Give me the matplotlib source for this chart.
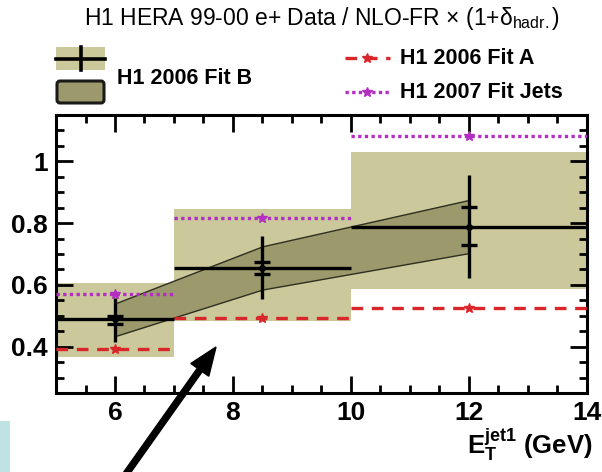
import matplotlib
matplotlib.use('Agg')
import matplotlib.pyplot as plt
from matplotlib.patches import Rectangle, FancyBboxPatch, FancyArrow
from matplotlib.ticker import MultipleLocator
import numpy as np

plt.rcParams['font.family'] = ['Liberation Sans', 'DejaVu Sans']
plt.rcParams['mathtext.fontset'] = 'custom'
plt.rcParams['mathtext.rm'] = 'Liberation Sans'
plt.rcParams['mathtext.it'] = 'Liberation Sans:italic'
plt.rcParams['mathtext.bf'] = 'Liberation Sans:bold'

# bins in E_T^jet1 (GeV)
bin_edges = [5, 7, 10, 14]
bin_centres = [6, 8.5, 12]

# data / NLO ratio with stat and total errors
data_ratio = [0.488, 0.656, 0.789]
stat_up = [0.011, 0.018, 0.063]
stat_dn = [0.013, 0.022, 0.059]
tot_up = [0.068, 0.101, 0.168]
tot_dn = [0.072, 0.102, 0.166]

# theory uncertainty boxes
box_hi = [0.607, 0.846, 1.031]
box_lo = [0.368, 0.482, 0.586]

# fit predictions
fit_a = [0.392, 0.493, 0.524]
fit_jets = [0.572, 0.818, 1.083]

# H1 2006 Fit B band
fitb_x = [6, 8.5, 12]
fitb_hi = [0.540, 0.725, 0.875]
fitb_lo = [0.434, 0.585, 0.703]

khaki = '#cbc99c'
olive = '#9c9a6c'
red = '#d8262a'
magenta = '#b22fc2'

fig = plt.figure(figsize=(6.02, 4.72), dpi=100)
ax = fig.add_axes([56 / 602, 79 / 472, 531 / 602, 278 / 472])

lefts = np.array(bin_edges[:-1])
widths = np.diff(bin_edges)
ax.bar(lefts, np.array(box_hi) - np.array(box_lo), width=widths, bottom=box_lo,
       align='edge', color=khaki, linewidth=0, zorder=1)

ax.fill_between(fitb_x, fitb_lo, fitb_hi, facecolor=olive, edgecolor='#2e2e20',
                linewidth=1.0, zorder=2)

ax.hlines(fit_a, lefts, lefts + widths, colors=red, linestyles=(0, (3.5, 2.6)),
          linewidth=2.4, zorder=3)
ax.plot(bin_centres, fit_a, linestyle='none', marker='*', markersize=7,
        color=red, zorder=3)
ax.hlines(fit_jets, lefts, lefts + widths, colors=magenta, linestyles=(0, (1, 1)),
          linewidth=2.4, zorder=3)
ax.plot(bin_centres, fit_jets, linestyle='none', marker='*', markersize=7,
        color=magenta, zorder=3)

ax.hlines(data_ratio, lefts, lefts + widths, colors='black', linewidth=2.4, zorder=4)
ax.errorbar(bin_centres, data_ratio, yerr=[tot_dn, tot_up], fmt='o', color='black',
            markersize=4, elinewidth=2.4, capsize=0, zorder=5)
ax.errorbar(bin_centres, data_ratio, yerr=[stat_dn, stat_up], fmt='none',
            ecolor='black', elinewidth=0, capsize=6, capthick=2.4, zorder=5)

ax.set_xlim(5, 14)
ax.set_ylim(0.25, 1.15)
ax.xaxis.set_minor_locator(MultipleLocator(0.5))
ax.yaxis.set_minor_locator(MultipleLocator(0.05))
ax.set_xticks([6, 8, 10, 12, 14])
ax.set_xticklabels(['6', '8', '10', '12', '14'])
ax.set_yticks([0.4, 0.6, 0.8, 1.0])
ax.set_yticklabels(['0.4', '0.6', '0.8', '1'])
ax.tick_params(which='both', direction='in', top=True, right=True, width=2)
ax.tick_params(which='major', length=12, labelsize=19, pad=6)
ax.tick_params(which='minor', length=6)
for lab in ax.get_xticklabels() + ax.get_yticklabels():
    lab.set_fontweight('bold')
for sp in ax.spines.values():
    sp.set_linewidth(2.2)

fig.text(593 / 602, 1 - 445 / 472, r'$\mathbf{E}_\mathbf{T}^\mathbf{jet1}$ (GeV)',
         ha='right', va='center', fontsize=18.5, fontweight='bold')

fig.text(322 / 602, 1 - 19 / 472,
         'H1 HERA 99-00 e+ Data / NLO-FR \u00d7 (1+\u03b4$_{\\rm hadr.}$)',
         ha='center', va='center', fontsize=16.5)

# legend and annotation drawn on an overlay in pixel units
ov = fig.add_axes([0, 0, 1, 1], zorder=10)
ov.set_xlim(0, 602)
ov.set_ylim(472, 0)
ov.axis('off')

ov.add_patch(Rectangle((56, 47), 49, 23, facecolor=khaki, edgecolor='none'))
ov.plot([56, 105], [58.5, 58.5], color='black', linewidth=2.6)
ov.plot([81, 81], [47, 70], color='black', linewidth=2.6)
ov.add_patch(FancyBboxPatch((57, 81), 47, 22, boxstyle='round,pad=0,rounding_size=3',
                            facecolor=olive, edgecolor='#1a1a1a', linewidth=2.2))
ov.text(117, 78, 'H1 2006 Fit B', ha='left', va='center', fontsize=15.5,
        fontweight='bold')

ov.plot([345, 390], [58, 58], color=red, linestyle=(0, (3.5, 2.6)), linewidth=2.4)
ov.plot([367], [58], marker='*', markersize=7, color=red)
ov.text(400, 58, 'H1 2006 Fit A', ha='left', va='center', fontsize=15.5,
        fontweight='bold')
ov.plot([345, 390], [92, 92], color=magenta, linestyle=(0, (1, 1)), linewidth=2.4)
ov.plot([367], [92], marker='*', markersize=7, color=magenta)
ov.text(400, 92, 'H1 2007 Fit Jets', ha='left', va='center', fontsize=15.5,
        fontweight='bold')

ov.add_patch(Rectangle((0, 421), 10, 51, facecolor='#bfe2e5', edgecolor='none'))
ov.add_patch(FancyArrow(126, 474, 216 - 126, 347 - 474, width=6, head_width=22,
                        head_length=28, length_includes_head=True,
                        facecolor='black', edgecolor='black'))

fig.savefig('out.png', dpi=100)
